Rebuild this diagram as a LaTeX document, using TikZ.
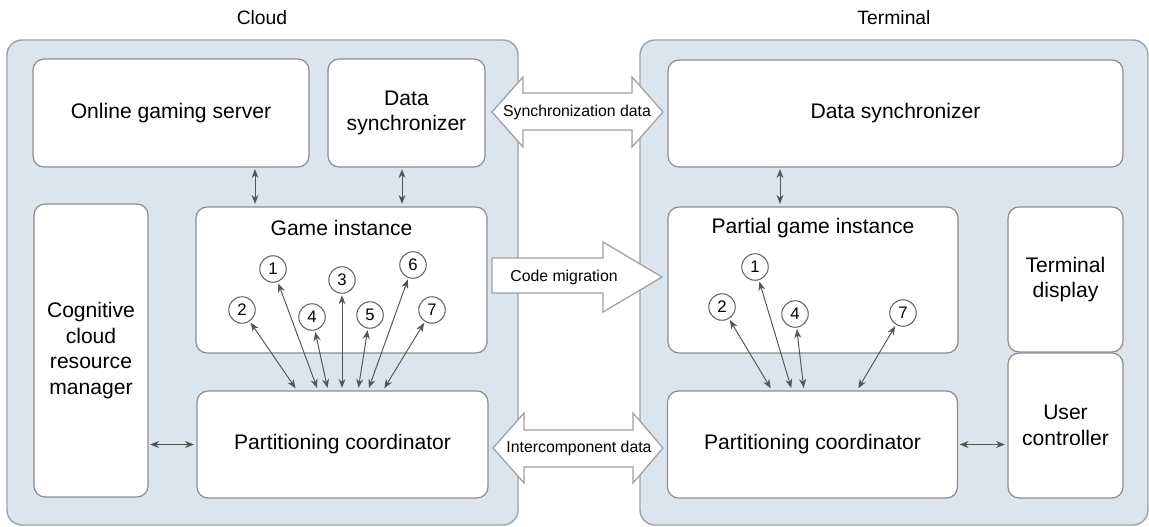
\documentclass[tikz,border=0pt]{standalone}
\usepackage{fontspec}
\setmainfont{Liberation Sans}
\usetikzlibrary{arrows.meta,positioning}
\definecolor{panel}{HTML}{DCE5EE}
\definecolor{panelline}{HTML}{9AA2AA}
\definecolor{boxline}{HTML}{8E8E8E}
\definecolor{tipgray}{HTML}{555555}

\tikzset{
  panelbox/.style={draw=panelline,fill=panel,rounded corners=3mm,line width=0.8pt},
  box/.style={draw=boxline,fill=white,rounded corners=2.2mm,line width=0.7pt,align=center,inner sep=0pt,
    font=\fontsize{12}{14.5}\selectfont},
  title/.style={font=\fontsize{12}{14.5}\selectfont},
  head/.style={font=\fontsize{11}{13}\selectfont},
  num/.style={circle,draw=tipgray!90,fill=white,minimum size=5.3mm,inner sep=0pt,line width=0.6pt,
    font=\fontsize{9.5}{9.5}\selectfont},
  link/.style={{Stealth[length=1.8mm,width=1.4mm]}-{Stealth[length=1.8mm,width=1.4mm]},draw=tipgray,
    line width=0.55pt,shorten <=0.3mm,shorten >=0.5mm},
  bigarrow/.style={draw=boxline!85,fill=white,line width=0.7pt},
  tag/.style={font=\fontsize{9}{11}\selectfont},
}

\begin{document}
\begin{tikzpicture}[x=0.02cm,y=-0.02cm]
\useasboundingbox (0,0) rectangle (1149,527);

% panels
\draw[panelbox] (7,40) rectangle (518,525);
\draw[panelbox] (640,40) rectangle (1148,525);
\node[head] (cloudtt) at (262,18) {Cloud};
\node[head] (termtt) at (894,18) {Terminal};

% cloud side
\node[box,minimum width=55.2mm,minimum height=21.6mm] (ogs) at (171,113) {Online gaming server};
\node[box,minimum width=31.4mm,minimum height=21.6mm] (csync) at (406.5,113) {Data\\synchronizer};
\node[box,minimum width=58.2mm,minimum height=29.2mm] (game) at (341.5,280) {};
\node[title] (gamett) at (341.5,228) {Game instance};
\node[box,minimum width=22.8mm,minimum height=58.6mm] (ccrm) at (91,350.5) {Cognitive\\cloud\\resource\\manager};
\node[box,minimum width=58.2mm,minimum height=21.4mm] (cpart) at (342.5,444.5) {Partitioning coordinator};

% terminal side
\node[box,minimum width=91mm,minimum height=21.4mm] (tsync) at (895.5,113.5) {Data synchronizer};
\node[box,minimum width=58mm,minimum height=29.2mm] (pgame) at (813,280) {};
\node[title] (pgamett) at (813,228) {Partial game instance};
\node[box,minimum width=23mm,minimum height=29mm] (tdisp) at (1065.5,279.5) {Terminal\\display};
\node[box,minimum width=23mm,minimum height=29mm] (ucon) at (1065.5,425.5) {User\\controller};
\node[box,minimum width=58mm,minimum height=21.4mm] (tpart) at (812.5,444.5) {Partitioning coordinator};

% block arrows between the two sides
\draw[bigarrow] (492,112) -- (523,77) -- (523,93) -- (632,93) -- (632,77) -- (663,112)
  -- (632,147) -- (632,130) -- (523,130) -- (523,147) -- cycle;
\node[tag] (synctag) at (577,112) {Synchronization data};
\draw[bigarrow] (492,258) -- (603,258) -- (603,242) -- (662,277) -- (603,312) -- (603,293)
  -- (492,293) -- cycle;
\node[tag] (codetag) at (564,277) {Code migration};
\draw[bigarrow] (493,448) -- (524,413) -- (524,430) -- (633,430) -- (633,413) -- (663,448)
  -- (633,483) -- (633,467) -- (524,467) -- (524,483) -- cycle;
\node[tag] (intertag) at (579,448) {Intercomponent data};

% small links
\draw[link] ([xshift=16.8mm]ogs.south) -- ([xshift=16.8mm]ogs.south |- game.north);
\draw[link] ([xshift=-0.9mm]csync.south) -- ([xshift=-0.9mm]csync.south |- game.north);
\draw[link] (cpart.west -| ccrm.east) -- (cpart.west);
\draw[link] ([xshift=-6.6mm]pgame.north |- tsync.south) -- ([xshift=-6.6mm]pgame.north);
\draw[link] (tpart.east) -- (tpart.east -| ucon.west);

% partitions of the game
\foreach \n/\x/\y/\e in {1/273/269/318,2/242/310/297,3/342/280/342,4/312/317/328,
                         5/370/315/358,6/413/265/368,7/432/310/383}{
  \node[num] (g\n) at (\x,\y) {\n};
  \draw[link] (g\n) -- (\e,0 |- cpart.north);
}
\foreach \n/\x/\y/\e in {1/755/267/792,2/722/307/772,4/795/314/804,7/903/313/857}{
  \node[num] (p\n) at (\x,\y) {\n};
  \draw[link] (p\n) -- (\e,0 |- tpart.north);
}
\end{tikzpicture}
\end{document}
